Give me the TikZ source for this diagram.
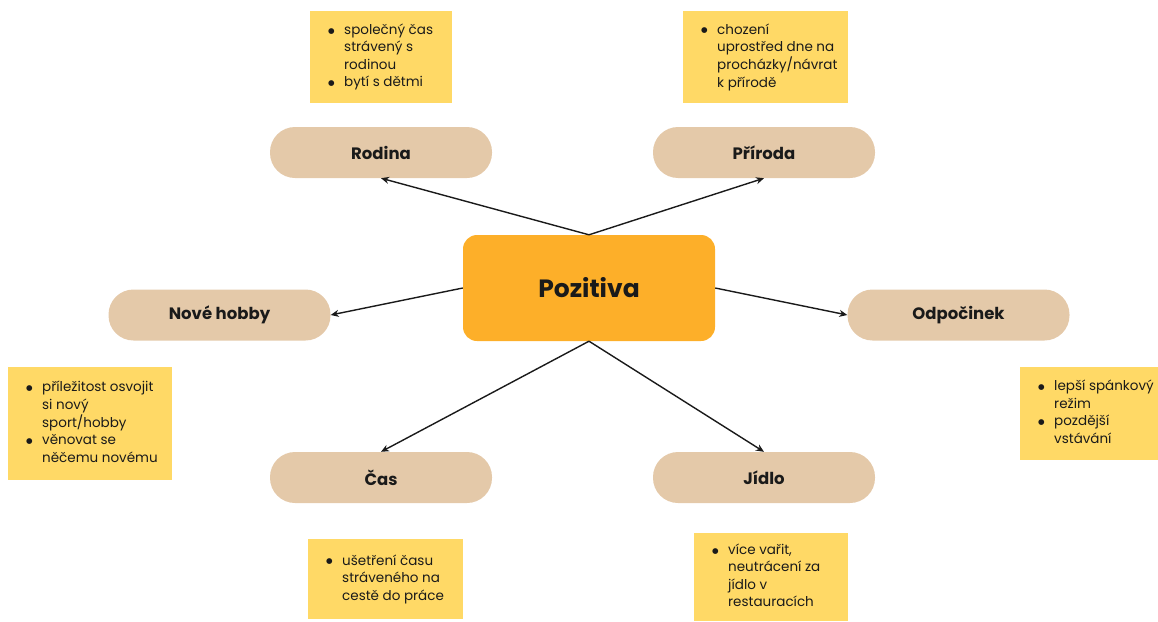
\documentclass[tikz,border=0pt]{standalone}
\usepackage{fontspec}
\setmainfont{Poppins}
\newfontfamily\dejavu{DejaVu Sans}
\usetikzlibrary{arrows.meta}
\definecolor{ctr}{HTML}{FDAF29}
\definecolor{pill}{HTML}{E4C9A9}
\definecolor{notey}{HTML}{FFD966}
\definecolor{ink}{HTML}{1A1A1A}
\newcommand{\bl}{\raisebox{1.3pt}{\dejavu\fontsize{7.5}{17.5}\selectfont ●}}
\begin{document}
\begin{tikzpicture}[x=1pt,y=-1pt,
  pillbox/.style={rectangle, rounded corners=25pt, fill=pill, minimum width=222pt, minimum height=51pt, inner sep=0pt, font=\fontsize{16.5}{19}\selectfont\bfseries, text=ink},
  centerbox/.style={rectangle, rounded corners=14pt, fill=ctr, minimum width=252pt, minimum height=106pt, inner sep=0pt, font=\fontsize{25}{30}\selectfont\bfseries, text=ink},
  notebox/.style={rectangle, fill=notey, anchor=north west, inner sep=0pt},
  notetext/.style={anchor=west, inner sep=0pt, font=\fontsize{13.5}{17.5}\selectfont, text=ink, align=left},
  conn/.style={-{Stealth[length=8pt,width=7pt]}, line width=1.4pt, ink}]
\useasboundingbox (0,0) rectangle (1158,621);

% central node
\node[centerbox] (pos) at (589,288) {Pozitiva};

% topic pills
\node[pillbox] (rod) at (381,152.5) {Rodina};
\node[pillbox] (pri) at (764,152.5) {Příroda};
\node[pillbox] (hob) at (219.5,315) {Nové hobby};
\node[pillbox] (odp) at (958.5,315) {Odpočinek};
\node[pillbox] (cas) at (381,477.5) {Čas};
\node[pillbox] (jid) at (764,477.5) {Jídlo};

% connectors
\draw[conn] (pos.north) -- (rod.south);
\draw[conn] (pos.north) -- (pri.south);
\draw[conn] (pos.west) -- (hob.east);
\draw[conn] (pos.east) -- (odp.west);
\draw[conn] (pos.south) -- (cas.north);
\draw[conn] (pos.south) -- (jid.north);

% notes
\node[notebox, minimum width=142pt, minimum height=92pt] (nrod) at (310,11) {};
\node[notetext] (trod) at ([xshift=18pt]nrod.west) {\begin{tabular}{@{}p{16pt}@{}l@{}}
\bl & společný čas\\ & strávený s\\ & rodinou\\ \bl & bytí s dětmi\end{tabular}};

\node[notebox, minimum width=165pt, minimum height=92pt] (npri) at (683,11) {};
\node[notetext] (tpri) at ([xshift=18pt]npri.west) {\begin{tabular}{@{}p{16pt}@{}l@{}}
\bl & chození\\ & uprostřed dne na\\ & procházky/návrat\\ & k přírodě\end{tabular}};

\node[notebox, minimum width=164pt, minimum height=113pt] (nhob) at (8,367) {};
\node[notetext] (thob) at ([xshift=18pt]nhob.west) {\begin{tabular}{@{}p{16pt}@{}l@{}}
\bl & příležitost osvojit\\ & si nový\\ & sport/hobby\\ \bl & věnovat se\\ & něčemu novému\end{tabular}};

\node[notebox, minimum width=138pt, minimum height=93pt] (nodp) at (1020,367) {};
\node[notetext] (todp) at ([xshift=18pt]nodp.west) {\begin{tabular}{@{}p{16pt}@{}l@{}}
\bl & lepší spánkový\\ & režim\\ \bl & pozdější\\ & vstávání\end{tabular}};

\node[notebox, minimum width=155pt, minimum height=80pt] (ncas) at (308,539) {};
\node[notetext] (tcas) at ([xshift=18pt]ncas.west) {\begin{tabular}{@{}p{16pt}@{}l@{}}
\bl & ušetření času\\ & stráveného na\\ & cestě do práce\end{tabular}};

\node[notebox, minimum width=154pt, minimum height=88pt] (njid) at (694,533) {};
\node[notetext] (tjid) at ([xshift=18pt]njid.west) {\begin{tabular}{@{}p{16pt}@{}l@{}}
\bl & více vařit,\\ & neutrácení za\\ & jídlo v\\ & restauracích\end{tabular}};
\end{tikzpicture}
\end{document}
